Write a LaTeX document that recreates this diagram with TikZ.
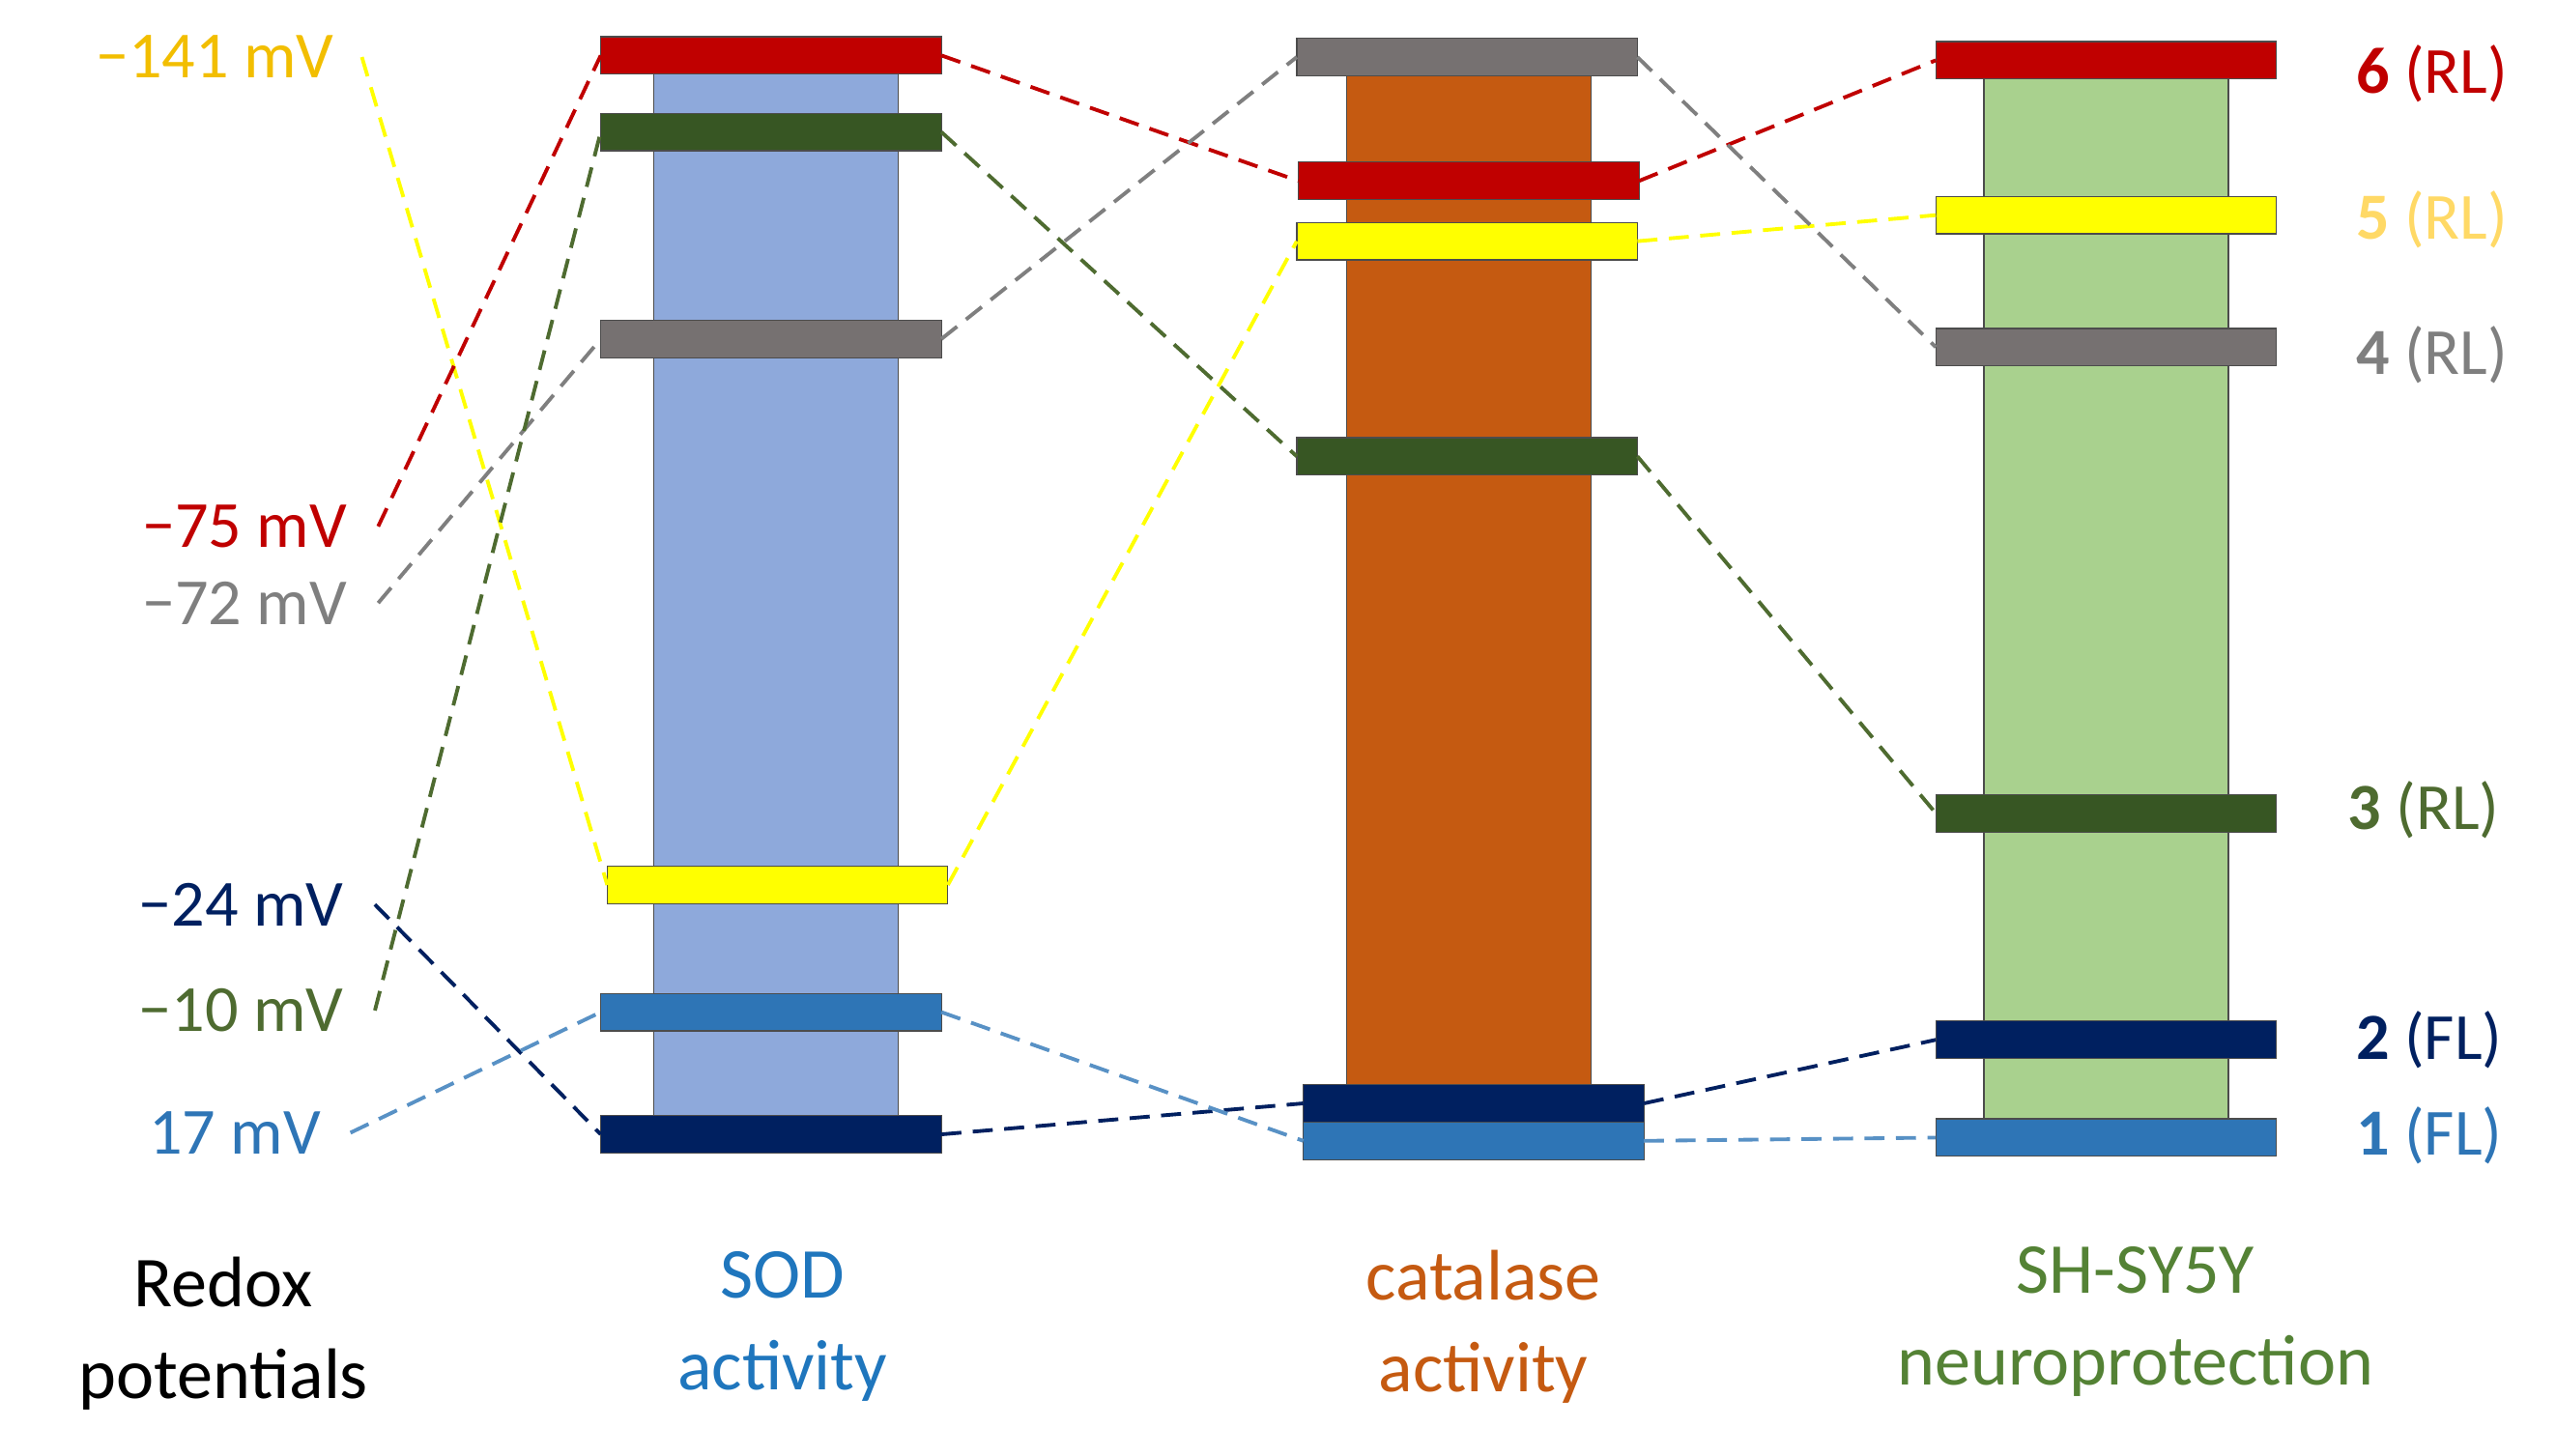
\documentclass[tikz,border=0pt]{standalone}
\usepackage{fontspec}
\setmainfont{Carlito}
\begin{document}
\begin{tikzpicture}[x=0.02cm,y=-0.02cm,
  bar/.style={draw=black!70,line width=0.4pt,minimum width=4.18cm,minimum height=0.46cm,inner sep=0,outer sep=0},
  col/.style={draw=black!70,line width=0.4pt},
  dl/.style={dashed,line width=1.3pt,dash pattern=on 7pt off 4pt},
  lab/.style={font=\fontsize{23}{26}\selectfont,anchor=east,inner sep=0},
  rlab/.style={font=\fontsize{23}{26}\selectfont,anchor=west,inner sep=0},
  bot/.style={font=\fontsize{25}{32}\selectfont,align=center,inner sep=0}]
\definecolor{cR}{HTML}{C00000}\definecolor{cG}{HTML}{375623}\definecolor{cGr}{HTML}{767171}
\definecolor{cY}{HTML}{FFFF00}\definecolor{cB}{HTML}{2E75B6}\definecolor{cN}{HTML}{002060}
\definecolor{cYt}{HTML}{F2BE00}\definecolor{cYl}{HTML}{FFD966}\definecolor{cGl}{HTML}{7F7F7F}
\definecolor{cGt}{HTML}{4E6B30}
\useasboundingbox (0,0) rectangle (1568,893);
% columns
\draw[col,fill={rgb,255:red,142;green,169;blue,219}] (401,45) rectangle (551,690);
\draw[col,fill={rgb,255:red,197;green,90;blue,17}] (826,45) rectangle (976,680);
\draw[col,fill={rgb,255:red,169;green,209;blue,142}] (1217,45) rectangle (1367,690);
% SOD bars
\node[bar,fill=cR] (sR) at (473,34) {};
\node[bar,fill=cG] (sG) at (473,81) {};
\node[bar,fill=cGr] (sGr) at (473,208) {};
\node[bar,fill=cY] (sY) at (477,543) {};
\node[bar,fill=cB] (sB) at (473,621) {};
\node[bar,fill=cN] (sN) at (473,696) {};
% catalase bars
\node[bar,fill=cGr] (cGr) at (900,35) {};
\node[bar,fill=cR] (cR) at (901,111) {};
\node[bar,fill=cY] (cY) at (900,148) {};
\node[bar,fill=cG] (cG) at (900,280) {};
\node[bar,fill=cN] (cN) at (904,677) {};
\node[bar,fill=cB] (cB) at (904,700) {};
% SH-SY5Y bars
\node[bar,fill=cR] (hR) at (1292,37) {};
\node[bar,fill=cY] (hY) at (1292,132) {};
\node[bar,fill=cGr] (hGr) at (1292,213) {};
\node[bar,fill=cG] (hG) at (1292,499) {};
\node[bar,fill=cN] (hN) at (1292,638) {};
\node[bar,fill=cB] (hB) at (1292,698) {};
% left labels
\node[lab,text=cYt] (l141) at (205,35) {−141 mV};
\node[lab,text=cR] (l75) at (213,323) {−75 mV};
\node[lab,text=cGl] (l72) at (213,370) {−72 mV};
\node[lab,text=cN] (l24) at (211,555) {−24 mV};
\node[lab,text=cGt] (l10) at (211,620) {−10 mV};
\node[lab,text=cB] (l17) at (197,695) {17 mV};
\coordinate (e141) at (222,35);
\coordinate (e75) at (232,323);
\coordinate (e72) at (232,370);
\coordinate (e24) at (230,555);
\coordinate (e10) at (230,620);
\coordinate (e17) at (215,695);
% right labels
\node[rlab,text=cR] (r6) at (1445,45) {\textbf{6} (RL)};
\node[rlab,text=cYl] (r5) at (1445,135) {\textbf{5} (RL)};
\node[rlab,text=cGl] (r4) at (1445,218) {\textbf{4} (RL)};
\node[rlab,text=cGt] (r3) at (1440,497) {\textbf{3} (RL)};
\node[rlab,text=cN] (r2) at (1445,638) {\textbf{2} (FL)};
\node[rlab,text=cB] (r1) at (1445,697) {\textbf{1} (FL)};
% connectors
\draw[dl,cY] (e141) -- (sY.west) (sY.east) -- (cY.west) (cY.east) -- (hY.west);
\draw[dl,cR] (e75) -- (sR.west) (sR.east) -- (cR.west) (cR.east) -- (hR.west);
\draw[dl,cGl] (e72) -- (sGr.west) (sGr.east) -- (cGr.west) (cGr.east) -- (hGr.west);
\draw[dl,cN] (e24) -- (sN.west) (sN.east) -- (cN.west) (cN.east) -- (hN.west);
\draw[dl,cGt] (e10) -- (sG.west) (sG.east) -- (cG.west) (cG.east) -- (hG.west);
\draw[dl,cB!80] (e17) -- (sB.west) (sB.east) -- (cB.west) (cB.east) -- (hB.west);
% bottom labels
\node[bot,text=black] (bR) at (137,818) {Redox\\potentials};
\node[bot,text={rgb,255:red,31;green,118;blue,189}] (bS) at (480,814) {SOD\\activity};
\node[bot,text={rgb,255:red,197;green,90;blue,17}] (bC) at (910,814) {catalase\\activity};
\node[bot,text={rgb,255:red,84;green,130;blue,53}] (bH) at (1310,811) {SH-SY5Y\\neuroprotection};
\end{tikzpicture}
\end{document}
